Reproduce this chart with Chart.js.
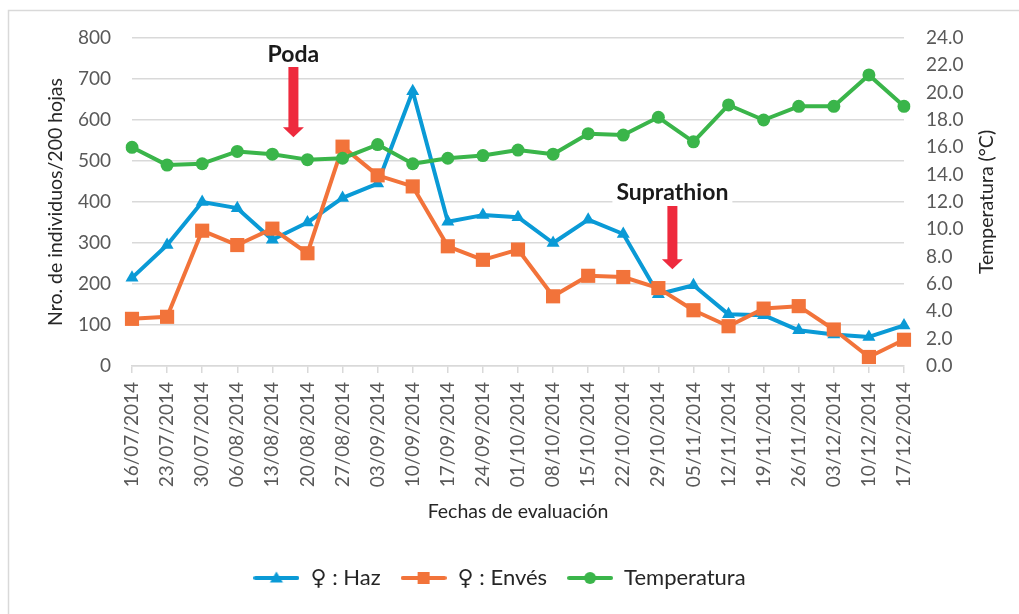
<!DOCTYPE html>
<html>
<head>
<meta charset="utf-8">
<script src="https://cdn.jsdelivr.net/npm/chart.js@4/dist/chart.umd.min.js"></script>
<style>
  html, body { margin: 0; padding: 0; background: #fff; }
  #wrap { width: 1019px; height: 614px; position: relative; }
</style>
</head>
<body>
<div id="wrap"><canvas id="chart"></canvas></div>
<script>
// evaluation dates
const fechas = [
  "16/07/2014", "23/07/2014", "30/07/2014", "06/08/2014", "13/08/2014", "20/08/2014",
  "27/08/2014", "03/09/2014", "10/09/2014", "17/09/2014", "24/09/2014", "01/10/2014",
  "08/10/2014", "15/10/2014", "22/10/2014", "29/10/2014", "05/11/2014", "12/11/2014",
  "19/11/2014", "26/11/2014", "03/12/2014", "10/12/2014", "17/12/2014"
];

// females on upper side of leaf (individuals / 200 leaves)
const haz = [215, 295, 400, 385, 308, 350, 410, 445, 670, 352, 368, 363,
             300, 357, 322, 175, 197, 126, 124, 87, 77, 71, 99];

// females on underside of leaf
const enves = [115, 120, 330, 295, 335, 275, 535, 465, 438, 292, 259, 284,
               170, 220, 217, 190, 136, 97, 140, 146, 89, 22, 64];

// temperature (°C), right axis
const temperatura = [16.0, 14.7, 14.8, 15.7, 15.5, 15.1, 15.2, 16.2, 14.8, 15.2, 15.4, 15.8,
                     15.5, 17.0, 16.9, 18.2, 16.4, 19.1, 18.0, 19.0, 19.0, 21.3, 19.0];

const seriesNames = ["\u2640 : Haz", "\u2640 : Env\u00e9s", "Temperatura"];

// treatment notes: label, category position, text level and arrow span (left axis units)
const notes = ["Poda", "Suprathion"];
const noteAt = [4.6, 15.4];
const noteTextAt = [760, 424];
const noteArrow = [[729, 558], [390, 236]];

const FONT = "Lato, 'DejaVu Sans', sans-serif";
const BLUE = "#0A9AD6";
const ORANGE = "#F2733A";
const GREEN = "#3AB54A";
const RED = "#EE2A3D";

// little line+marker swatch for the legend
function swatch(color, style) {
  const c = document.createElement("canvas");
  c.width = 46; c.height = 16;
  const g = c.getContext("2d");
  g.strokeStyle = color; g.lineWidth = 4; g.lineCap = "round";
  g.beginPath(); g.moveTo(2, 8); g.lineTo(44, 8); g.stroke();
  g.fillStyle = color;
  g.beginPath();
  if (style === "triangle") {
    g.moveTo(23, 1.5); g.lineTo(29.5, 12.5); g.lineTo(16.5, 12.5); g.closePath();
  } else if (style === "rect") {
    g.rect(17, 2, 12, 12);
  } else {
    g.arc(23, 8, 6, 0, Math.PI * 2);
  }
  g.fill();
  return c;
}

function drawArrow(ctx, x, yTop, yTip) {
  const shaft = 5, head = 10.5, headLen = 10;
  ctx.fillStyle = RED;
  ctx.beginPath();
  ctx.moveTo(x - shaft, yTop);
  ctx.lineTo(x + shaft, yTop);
  ctx.lineTo(x + shaft, yTip - headLen);
  ctx.lineTo(x + head, yTip - headLen);
  ctx.lineTo(x, yTip);
  ctx.lineTo(x - head, yTip - headLen);
  ctx.lineTo(x - shaft, yTip - headLen);
  ctx.closePath();
  ctx.fill();
}

const decor = {
  id: "decor",
  afterLayout(chart) {
    // the original legend sits a little left of centre
    if (chart.legend) {
      chart.legend.left -= 10;
      chart.legend.right -= 10;
    }
  },
  beforeDraw(chart) {
    const { ctx, width, height } = chart;
    ctx.save();
    ctx.fillStyle = "#fff";
    ctx.fillRect(0, 0, width, height);
    ctx.strokeStyle = "#d9d9d9";
    ctx.lineWidth = 1.5;
    ctx.beginPath();
    ctx.moveTo(8.5, height);
    ctx.lineTo(8.5, 10.5);
    ctx.lineTo(width, 10.5);
    ctx.stroke();
    ctx.restore();
  },
  afterDraw(chart) {
    const { ctx, chartArea } = chart;
    const x = chart.scales.x, y = chart.scales.y, y1 = chart.scales.y1;
    ctx.save();

    // right axis title, reading bottom to top
    ctx.translate(y1.left + 83, (chartArea.top + chartArea.bottom) / 2);
    ctx.rotate(-Math.PI / 2);
    ctx.font = "19.5px " + FONT;
    ctx.fillStyle = "#262626";
    ctx.textAlign = "center";
    ctx.textBaseline = "middle";
    ctx.fillText("Temperatura (\u00b0C)", 0, 0);
    ctx.setTransform(1, 0, 0, 1, 0, 0);

    notes.forEach((label, i) => {
      const px = x.getPixelForValue(noteAt[i]);
      const ty = y.getPixelForValue(noteTextAt[i]);
      ctx.font = "bold 23px " + FONT;
      const w = ctx.measureText(label).width;
      ctx.fillStyle = "#fff";
      ctx.fillRect(px - w / 2 - 4, ty - 13, w + 8, 26);
      ctx.fillStyle = "#1a1a1a";
      ctx.textAlign = "center";
      ctx.textBaseline = "middle";
      ctx.fillText(label, px, ty);
      drawArrow(ctx, px, y.getPixelForValue(noteArrow[i][0]), y.getPixelForValue(noteArrow[i][1]));
    });
    ctx.restore();
  }
};

const styles = ["triangle", "rect", "circle"];
const colors = [BLUE, ORANGE, GREEN];

new Chart(document.getElementById("chart"), {
  type: "line",
  data: {
    labels: fechas,
    datasets: [
      {
        label: seriesNames[0], data: haz, yAxisID: "y", order: 3,
        borderColor: BLUE, backgroundColor: BLUE,
        pointStyle: "triangle", pointRadius: 7.5, pointBorderWidth: 0
      },
      {
        label: seriesNames[1], data: enves, yAxisID: "y", order: 2,
        borderColor: ORANGE, backgroundColor: ORANGE,
        pointStyle: "rect", pointRadius: 10, pointBorderWidth: 0
      },
      {
        label: seriesNames[2], data: temperatura, yAxisID: "y1", order: 1,
        borderColor: GREEN, backgroundColor: GREEN,
        pointStyle: "circle", pointRadius: 6.5, pointBorderWidth: 0
      }
    ]
  },
  options: {
    responsive: true,
    maintainAspectRatio: false,
    animation: false,
    elements: {
      line: { borderWidth: 4, tension: 0, borderJoinStyle: "round", borderCapStyle: "round" }
    },
    layout: { padding: { top: 38, left: 0, right: 0, bottom: 15 } },
    plugins: {
      tooltip: { enabled: false },
      legend: {
        position: "bottom",
        labels: {
          usePointStyle: true,
          pointStyleWidth: 46,
          padding: 20,
          color: "#262626",
          font: { family: FONT, size: 22 },
          generateLabels: (chart) => seriesNames.map((name, i) => ({
            text: name,
            pointStyle: swatch(colors[i], styles[i]),
            fillStyle: colors[i],
            strokeStyle: colors[i],
            lineWidth: 0,
            fontColor: "#262626",
            datasetIndex: i,
            hidden: false
          }))
        }
      }
    },
    scales: {
      x: {
        offset: false,
        grid: { drawOnChartArea: false, color: "#d9d9d9", lineWidth: 1.5, tickLength: 7 },
        border: { display: true, color: "#d9d9d9", width: 1.5 },
        ticks: {
          autoSkip: false, maxRotation: 90, minRotation: 90, padding: 9,
          color: "#595959", font: { family: FONT, size: 19 }
        },
        title: {
          display: true, text: "Fechas de evaluaci\u00f3n", color: "#262626",
          font: { family: FONT, size: 19.5 }, padding: { top: 0, bottom: 24 }
        },
        afterFit: (scale) => { scale.height = 181; }
      },
      y: {
        position: "left",
        min: 0, max: 800,
        grid: { color: "#d9d9d9", lineWidth: 1.5, drawTicks: false },
        border: { display: false },
        ticks: { stepSize: 100, padding: 21, color: "#595959", font: { family: FONT, size: 19 } },
        title: {
          display: true, text: "Nro. de individuos/200 hojas", color: "#262626",
          font: { family: FONT, size: 19.5 }, padding: { top: 44, bottom: 0 }
        },
        afterFit: (scale) => { scale.width = 132; }
      },
      y1: {
        position: "right",
        min: 0, max: 24,
        grid: { display: false, drawTicks: false },
        border: { display: false },
        ticks: {
          stepSize: 2, padding: 22, color: "#595959", font: { family: FONT, size: 19 },
          callback: (v) => Number(v).toFixed(1)
        },
        afterFit: (scale) => { scale.width = 115; }
      }
    }
  },
  plugins: [decor]
});
</script>
</body>
</html>
